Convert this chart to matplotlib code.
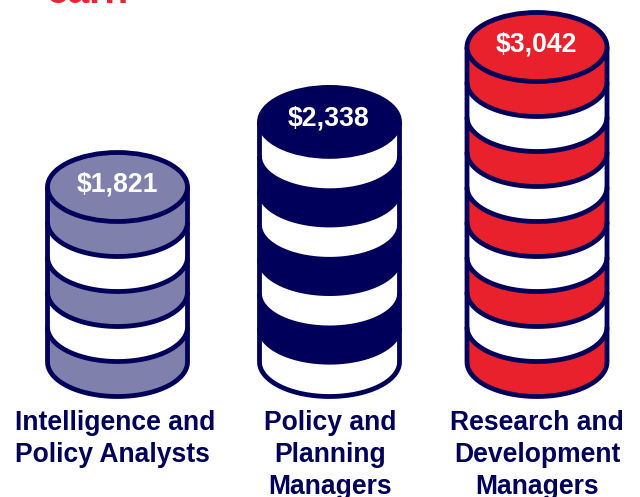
import numpy as np
import matplotlib
matplotlib.use("Agg")
import matplotlib.pyplot as plt
from matplotlib.patches import Polygon, Ellipse

plt.rcParams['font.family'] = ['Liberation Sans', 'DejaVu Sans']

categories = ["Intelligence and\nPolicy Analysts", "Policy and\nPlanning\nManagers", "Research and\nDevelopment\nManagers"]
value_labels = ["$1,821", "$2,338", "$3,042"]
stack_heights = [5.0, 6.86, 9.0]
band_counts = [5, 7, 9]
first_band_filled = [True, False, True]
fills = ["#8080AD", "#00005A", "#E8212C"]
centers = [117.5, 329.5, 537.0]
label_aligns = ["left", "center", "center"]
label_x = [15, 330, 537]

NAVY = "#00005A"
UNIT_PX = 35.0
BASE_PX = 396.5
RX = 70.0
RY = 34.5 / UNIT_PX
LW = 4.8 * 72 / 100

fig = plt.figure(figsize=(6.4, 4.97), dpi=100)
ax = fig.add_axes([0, 0, 1, 1])
ax.set_xlim(0, 640)
ax.set_ylim((BASE_PX - 497) / UNIT_PX, BASE_PX / UNIT_PX)
ax.axis("off")

t = np.linspace(np.pi, 2 * np.pi, 80)


def curve(cx, level):
    return cx + RX * np.cos(t), level + RY + RY * np.sin(t)


for i, cx in enumerate(centers):
    n = band_counts[i]
    h = stack_heights[i]
    step = h / n
    fill = fills[i]
    for k in range(n):
        lo = k * step
        hi = (k + 1) * step
        xl, yl = curve(cx, lo)
        xu, yu = curve(cx, hi)
        from_top = n - 1 - k
        filled = (from_top % 2 == 0) == first_band_filled[i]
        pts = np.column_stack([np.r_[xl, xu[::-1]], np.r_[yl, yu[::-1]]])
        ax.add_patch(Polygon(pts, closed=True, facecolor=fill if filled else "white",
                             edgecolor="none", zorder=2, snap=False))
        ax.plot(xl, yl, color=NAVY, lw=LW, solid_capstyle="butt", zorder=3, snap=False)
    for side in (-RX, RX):
        ax.plot([cx + side, cx + side], [RY, h + RY], color=NAVY, lw=LW,
                solid_capstyle="butt", zorder=3, snap=False)
    ax.add_patch(Ellipse((cx, h + RY), 2 * RX, 2 * RY, facecolor=fill, edgecolor=NAVY,
                         linewidth=LW, zorder=4, snap=False))
    ax.text(cx - 0.5, h + RY + 3 / UNIT_PX, value_labels[i], color="white", fontsize=19.2,
            fontweight="bold", ha="center", va="center", zorder=5)
    for j, line in enumerate(categories[i].split("\n")):
        ax.text(label_x[i], (BASE_PX - (430 + 32 * j)) / UNIT_PX, line, color=NAVY, fontsize=19.1,
                fontweight="bold", ha=label_aligns[i], va="baseline", zorder=5)

ax.text(47, (BASE_PX - 3) / UNIT_PX, "earn", color="#EE2233", fontsize=28, fontweight="bold",
        ha="left", va="baseline")

fig.savefig("out.png", dpi=100)
